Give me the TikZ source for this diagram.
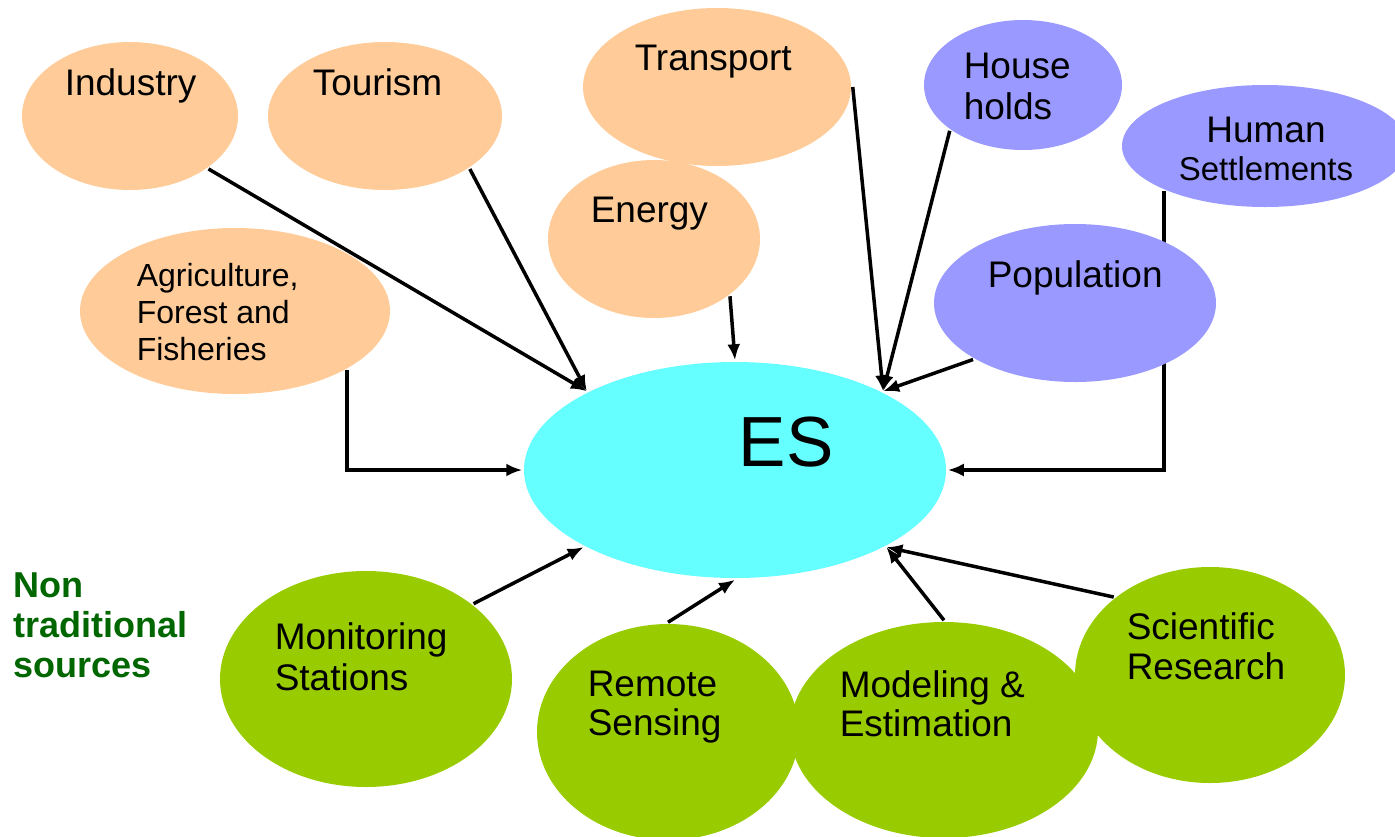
\documentclass[tikz,border=0pt]{standalone}
\usepackage{fontspec}
\setmainfont{Liberation Sans}
\usetikzlibrary{shapes.geometric,arrows.meta}
\definecolor{peach}{HTML}{FFCC99}
\definecolor{lavender}{HTML}{9999FF}
\definecolor{aqua}{HTML}{66FFFF}
\definecolor{leaf}{HTML}{99CC00}
\definecolor{darkleaf}{HTML}{006600}

\begin{document}
\begin{tikzpicture}[x=1pt,y=-1pt,->,>={Latex[length=16pt,width=13pt]},line width=3.5pt,
			peach node/.style={ellipse,fill=peach,inner sep=0pt},
			blue node/.style={ellipse,fill=lavender,inner sep=0pt},
			green node/.style={ellipse,fill=leaf,inner sep=0pt},
			text node/.style={inner sep=0pt,align=left,anchor=north west,font=\fontsize{37}{41}\selectfont}]
		\useasboundingbox (0,0) rectangle (1395,836);

		\node[peach node,minimum width=216,minimum height=148] (ind) at (130,116) {};
		\node[peach node,minimum width=234,minimum height=148] (tou) at (385,116) {};
		\node[peach node,minimum width=268,minimum height=158] (tra) at (717,87) {};
		\node[peach node,minimum width=212,minimum height=158] (ene) at (654,239) {};
		\node[peach node,minimum width=310,minimum height=166] (agr) at (235,311) {};
		\node[blue node,minimum width=198,minimum height=130] (hou) at (1023,85) {};
		\node[blue node,minimum width=286,minimum height=122] (hum) at (1265,146) {};
		\node[ellipse,fill=aqua,inner sep=0pt,minimum width=422,minimum height=216] (es) at (735,470) {};
		\node[green node,minimum width=292,minimum height=216] (mon) at (366,679) {};
		\node[green node,minimum width=262,minimum height=216] (rem) at (668,732) {};
		\node[green node,minimum width=308,minimum height=216] (mod) at (944,730) {};
		\node[green node,minimum width=270,minimum height=216] (sci) at (1210,675) {};

		\draw (hum.204) |- (es.east);
		\node[blue node,minimum width=282,minimum height=158] (pop) at (1075,303) {};

		\draw (ind.-34) -- (es.152);
		\draw (tou.-32) -- (es.152);
		\draw (ene.-37) -- (es.90);
		\draw (agr.-28) |- (es.west);
		\draw (tra.east) -- (es.28);
		\draw (hou.212) -- (es.28);
		\draw (pop.209) -- (es.28);
		\draw (mon.35) -- (es.207);
		\draw (rem.north) -- (es.south);
		\draw (mod.north) -- (es.333);
		\draw (sci.141) -- (es.333);

		\node[text node] (indT) at (63,67) {Industry};
		\node[text node] (touT) at (311,67) {Tourism};
		\node[text node] (traT) at (633,43) {Transport};
		\node[text node] (eneT) at (589,195) {Energy};
		\node[text node,font=\fontsize{32}{37}\selectfont] (agrT) at (135,262) {Agriculture,\\Forest and\\Fisheries};
		\node[text node] (houT) at (962,51) {House\\holds};
		\node[text node,anchor=north,align=center,font=\fontsize{37}{38}\selectfont] (humT) at (1266,115) {Human\\{\fontsize{33}{38}\selectfont Settlements}};
		\node[text node] (popT) at (986,259) {Population};
		\node[text node,font=\fontsize{71}{80}\selectfont] (esT) at (737,415) {ES};
		\node[text node] (monT) at (273,621) {Monitoring\\Stations};
		\node[text node,font=\fontsize{37}{39}\selectfont] (remT) at (586,669) {Remote\\Sensing};
		\node[text node,font=\fontsize{37}{39}\selectfont] (modT) at (838,669) {Modeling \&\\Estimation};
		\node[text node,font=\fontsize{37}{40}\selectfont] (sciT) at (1125,611) {Scientific\\Research};
		\node[text node,text=darkleaf,font=\fontsize{36}{40}\selectfont\bfseries] (nonT) at (12,571) {Non\\traditional\\sources};
	\end{tikzpicture}
\end{document}
